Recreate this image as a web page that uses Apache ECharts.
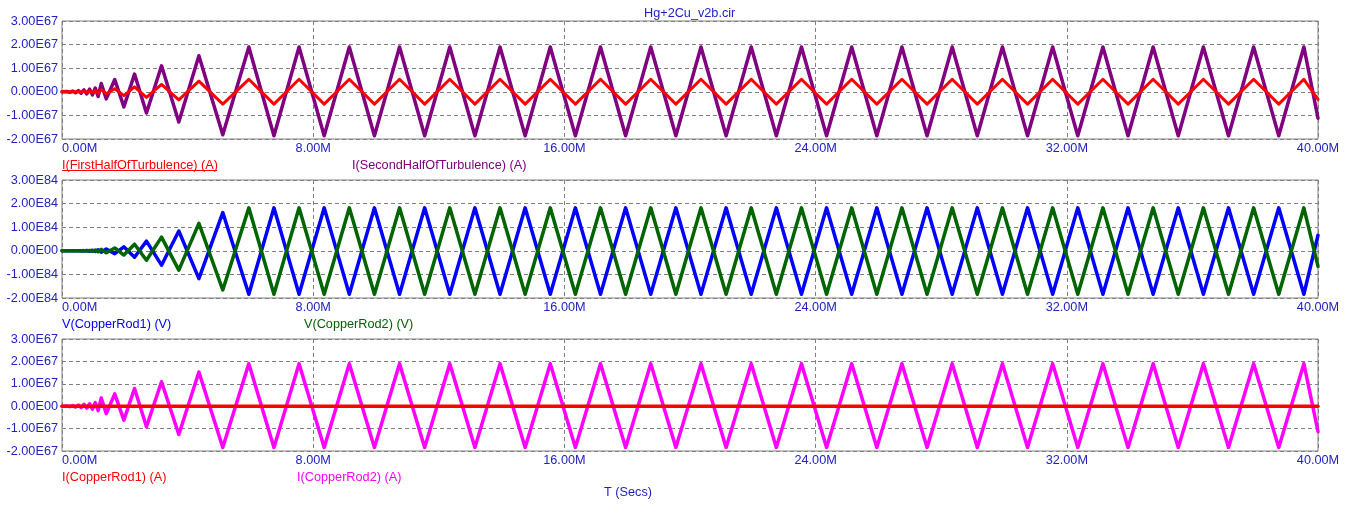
<!DOCTYPE html>
<html>
<head>
<meta charset="utf-8">
<script src="https://cdn.jsdelivr.net/npm/echarts@6/dist/echarts.min.js"></script>
<style>
html,body{margin:0;padding:0;background:#fff;}
#chart{width:1353px;height:513px;}
</style>
</head>
<body>
<div id="chart"></div>
<script>
// Time points in mega-seconds (M)
const timeM = [0, 0.15, 0.25, 0.34, 0.43, 0.52, 0.61, 0.70, 0.79, 0.88, 0.97, 1.06, 1.15,
  1.25, 1.41, 1.68, 1.97, 2.31, 2.69, 3.17, 3.72, 4.36, 5.12, 5.95,
  6.75, 7.55, 8.35, 9.15, 9.95, 10.75, 11.55, 12.35, 13.15, 13.95, 14.75, 15.55,
  16.35, 17.15, 17.95, 18.75, 19.55, 20.35, 21.15, 21.95, 22.75, 23.55, 24.35, 25.15,
  25.95, 26.75, 27.55, 28.35, 29.15, 29.95, 30.75, 31.55, 32.35, 33.15, 33.95, 34.75,
  35.55, 36.35, 37.15, 37.95, 38.75, 39.55, 40];

// Panel 1 values (x 1E67 A)
const firstHalfOfTurbulence = [0, 0.003, -0.005, 0.008, -0.01, 0.013, -0.016, 0.02, -0.025, 0.03, -0.035, 0.045, -0.055,
  0.09, -0.08, 0.13, -0.16, 0.21, -0.24, 0.31, -0.34, 0.45, -0.52, 0.53,
  -0.52, 0.53, -0.52, 0.53, -0.52, 0.53, -0.52, 0.53, -0.52, 0.53, -0.52, 0.53,
  -0.52, 0.53, -0.52, 0.53, -0.52, 0.53, -0.52, 0.53, -0.52, 0.53, -0.52, 0.53,
  -0.52, 0.53, -0.52, 0.53, -0.52, 0.53, -0.52, 0.53, -0.52, 0.53, -0.52, 0.53,
  -0.52, 0.53, -0.52, 0.53, -0.52, 0.53, -0.32];
const secondHalfOfTurbulence = [0, 0.01, -0.02, 0.03, -0.04, 0.05, -0.06, 0.08, -0.09, 0.11, -0.13, 0.16, -0.2,
  0.35, -0.3, 0.52, -0.64, 0.75, -0.9, 1.1, -1.28, 1.53, -1.82, 1.9,
  -1.86, 1.9, -1.86, 1.9, -1.86, 1.9, -1.86, 1.9, -1.86, 1.9, -1.86, 1.9,
  -1.86, 1.9, -1.86, 1.9, -1.86, 1.9, -1.86, 1.9, -1.86, 1.9, -1.86, 1.9,
  -1.86, 1.9, -1.86, 1.9, -1.86, 1.9, -1.86, 1.9, -1.86, 1.9, -1.86, 1.9,
  -1.86, 1.9, -1.86, 1.9, -1.86, 1.9, -1.12];

// Panel 2 values (x 1E84 V)
const vCopperRod1 = [0, 0, 0, 0, 0, 0, 0.005, -0.008, 0.012, -0.016, 0.022, -0.03, 0.04,
  -0.06, 0.08, -0.12, 0.17, -0.27, 0.41, -0.61, 0.84, -1.18, 1.62, -1.84,
  1.82, -1.84, 1.82, -1.84, 1.82, -1.84, 1.82, -1.84, 1.82, -1.84, 1.82, -1.84,
  1.82, -1.84, 1.82, -1.84, 1.82, -1.84, 1.82, -1.84, 1.82, -1.84, 1.82, -1.84,
  1.82, -1.84, 1.82, -1.84, 1.82, -1.84, 1.82, -1.84, 1.82, -1.84, 1.82, -1.84,
  1.82, -1.84, 1.82, -1.84, 1.82, -1.84, 0.66];
const vCopperRod2 = [0, 0, 0, 0, 0, 0, -0.005, 0.008, -0.012, 0.016, -0.022, 0.03, -0.04,
  0.06, -0.08, 0.12, -0.18, 0.28, -0.4, 0.58, -0.82, 1.16, -1.66, 1.82,
  -1.84, 1.82, -1.84, 1.82, -1.84, 1.82, -1.84, 1.82, -1.84, 1.82, -1.84, 1.82,
  -1.84, 1.82, -1.84, 1.82, -1.84, 1.82, -1.84, 1.82, -1.84, 1.82, -1.84, 1.82,
  -1.84, 1.82, -1.84, 1.82, -1.84, 1.82, -1.84, 1.82, -1.84, 1.82, -1.84, 1.82,
  -1.84, 1.82, -1.84, 1.82, -1.84, 1.82, -0.66];

// Panel 3 values (x 1E67 A)
const iCopperRod1 = [0, 0, 0, 0, 0, 0, 0, 0, 0, 0, 0, 0, 0,
  0, 0, 0, 0, 0, 0, 0, 0, 0, 0, 0,
  0, 0, 0, 0, 0, 0, 0, 0, 0, 0, 0, 0,
  0, 0, 0, 0, 0, 0, 0, 0, 0, 0, 0, 0,
  0, 0, 0, 0, 0, 0, 0, 0, 0, 0, 0, 0,
  0, 0, 0, 0, 0, 0, 0];
const iCopperRod2 = [0, 0.01, -0.02, 0.03, -0.04, 0.05, -0.06, 0.08, -0.09, 0.11, -0.13, 0.16, -0.2,
  0.37, -0.33, 0.55, -0.62, 0.79, -0.92, 1.09, -1.26, 1.53, -1.84, 1.9,
  -1.84, 1.9, -1.84, 1.9, -1.84, 1.9, -1.84, 1.9, -1.84, 1.9, -1.84, 1.9,
  -1.84, 1.9, -1.84, 1.9, -1.84, 1.9, -1.84, 1.9, -1.84, 1.9, -1.84, 1.9,
  -1.84, 1.9, -1.84, 1.9, -1.84, 1.9, -1.84, 1.9, -1.84, 1.9, -1.84, 1.9,
  -1.84, 1.9, -1.84, 1.9, -1.84, 1.9, -1.13];

const xTicks = [0, 8, 16, 24, 32, 40];
const yTicks = [-2, -1, 0, 1, 2, 3];
const panelExponents = ['E67', 'E84', 'E67'];

const FONT = "'Liberation Sans', Arial, sans-serif";
const LABEL_BLUE = '#2222c4';
const GRID_GRAY = '#808080';

const chart = echarts.init(document.getElementById('chart'), null, {renderer: 'canvas'});

const grids = [
  {left: 62, top: 21, width: 1256, height: 118},
  {left: 62, top: 180, width: 1256, height: 118},
  {left: 62, top: 339, width: 1256, height: 112}
].map(g => Object.assign({show: true, borderColor: GRID_GRAY, borderWidth: 1, backgroundColor: '#fff', containLabel: false, outerBoundsMode: 'none'}, g));

const xAxes = grids.map((g, i) => ({
  type: 'value', gridIndex: i, min: xTicks[0], max: xTicks[xTicks.length - 1], interval: 8,
  axisLine: {show: false}, axisTick: {show: false},
  splitLine: {show: true, lineStyle: {color: GRID_GRAY, type: [4, 3], width: 1}},
  axisLabel: {
    color: LABEL_BLUE, fontFamily: FONT, fontSize: 12.7, margin: 3,
    alignMinLabel: 'left',
    formatter: v => v.toFixed(2) + 'M'
  }
}));

const yAxes = grids.map((g, i) => ({
  type: 'value', gridIndex: i, min: yTicks[0], max: yTicks[yTicks.length - 1], interval: 1,
  axisLine: {show: false}, axisTick: {show: false},
  splitLine: {show: true, lineStyle: {color: GRID_GRAY, type: [4, 3], width: 1}},
  axisLabel: {
    color: LABEL_BLUE, fontFamily: FONT, fontSize: 12.7, margin: 4,
    formatter: v => v === 0 ? '0.00E00' : v.toFixed(2) + panelExponents[i]
  }
}));

function mk(name, vals, idx, color, z, w) {
  return {
    name: name, type: 'line', xAxisIndex: idx, yAxisIndex: idx,
    data: timeM.map((t, k) => [t, vals[k]]),
    showSymbol: false, symbol: 'none', animation: false, z: z,
    lineStyle: {color: color, width: w, join: 'round', cap: 'round'}
  };
}

const series = [
  mk('I(SecondHalfOfTurbulence) (A)', secondHalfOfTurbulence, 0, '#800080', 2, 3.5),
  mk('I(FirstHalfOfTurbulence) (A)', firstHalfOfTurbulence, 0, '#ff0000', 3, 3),
  mk('V(CopperRod1) (V)', vCopperRod1, 1, '#0000ff', 2, 3.5),
  mk('V(CopperRod2) (V)', vCopperRod2, 1, '#006400', 3, 3.5),
  mk('I(CopperRod2) (A)', iCopperRod2, 2, '#ff00ff', 2, 3.5),
  mk('I(CopperRod1) (A)', iCopperRod1, 2, '#ff0000', 3, 3.5)
];

function txt(text, x, y, color, align) {
  return {
    type: 'text', x: x, y: y, silent: true,
    style: {text: text, fill: color, font: '12.7px ' + FONT, textAlign: align || 'left', textVerticalAlign: 'middle', verticalAlign: 'middle'}
  };
}

const graphics = [
  txt('Hg+2Cu_v2b.cir', 644, 13, LABEL_BLUE),
  txt('I(FirstHalfOfTurbulence) (A)', 62, 165, '#ff0000'),
  {type: 'line', silent: true, shape: {x1: 62, y1: 170.5, x2: 217, y2: 170.5}, style: {stroke: '#ff0000', lineWidth: 1}},
  txt('I(SecondHalfOfTurbulence) (A)', 352, 165, '#800080'),
  txt('V(CopperRod1) (V)', 62, 324, '#0000ff'),
  txt('V(CopperRod2) (V)', 304, 324, '#006400'),
  txt('I(CopperRod1) (A)', 62, 477, '#ff0000'),
  txt('I(CopperRod2) (A)', 297, 477, '#ff00ff'),
  txt('T (Secs)', 628, 492, LABEL_BLUE, 'center')
];

chart.setOption({
  animation: false,
  backgroundColor: '#ffffff',
  grid: grids,
  xAxis: xAxes,
  yAxis: yAxes,
  series: series,
  graphic: graphics
});
</script>
</body>
</html>
